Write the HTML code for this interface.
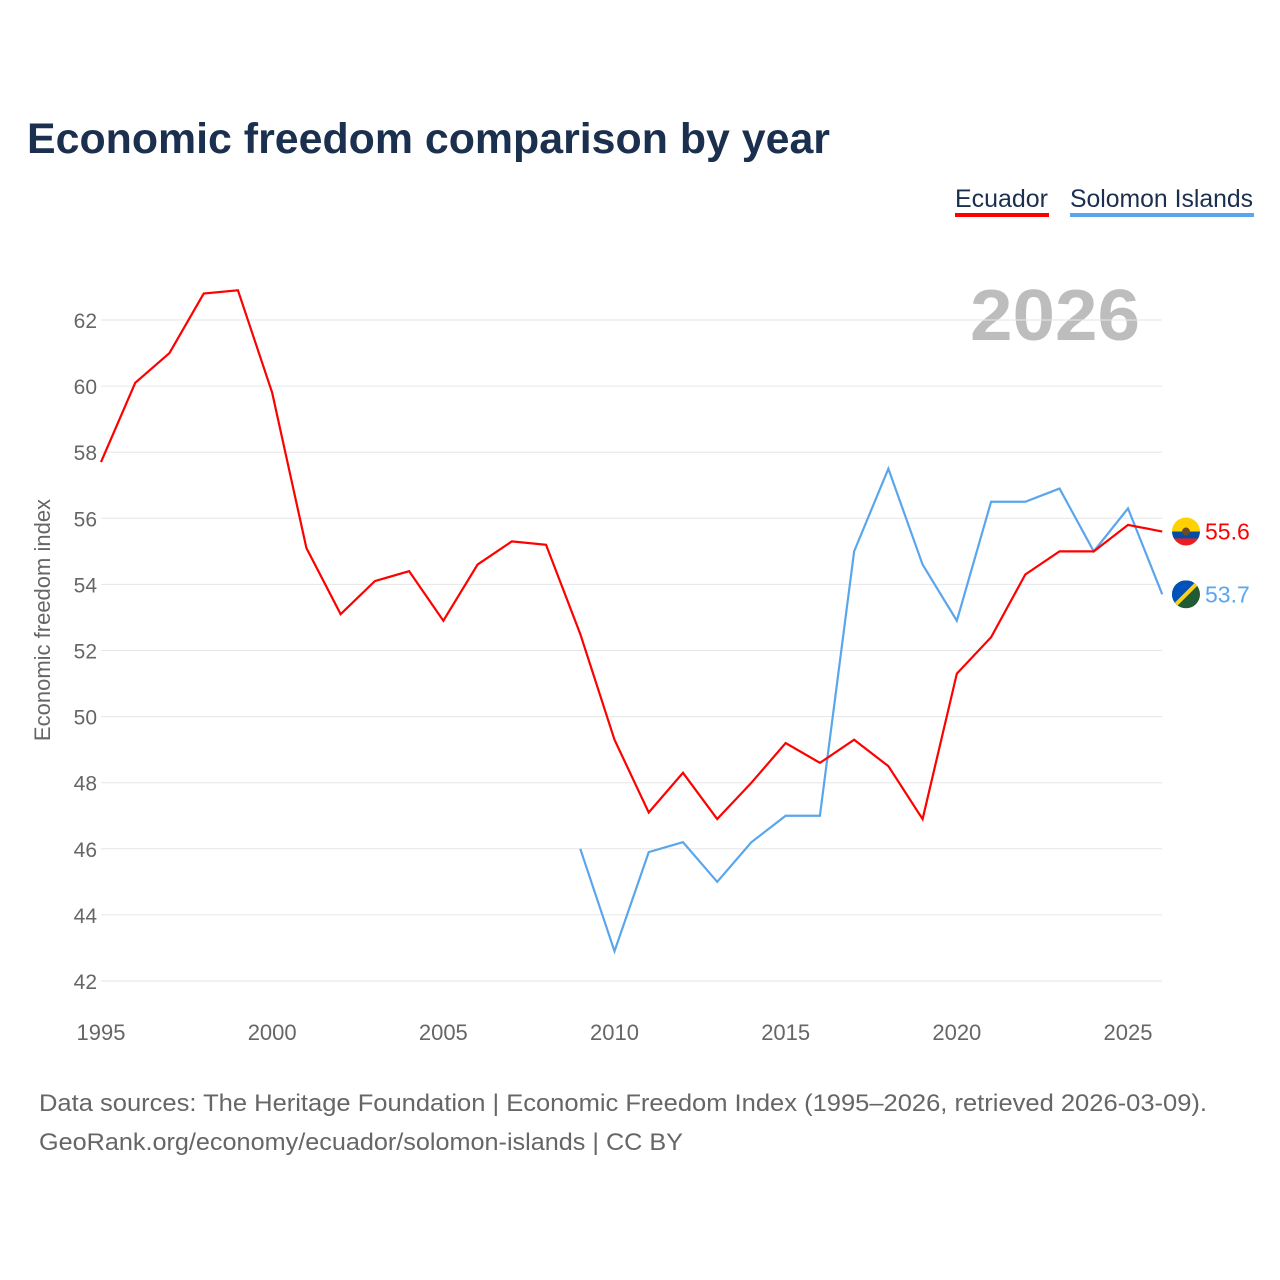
<!DOCTYPE html>
<html><head><meta charset="utf-8"><style>
body{margin:0;background:#fff;font-family:"Liberation Sans",sans-serif}
#wrap{position:relative;width:1280px;height:1280px;overflow:hidden}
</style></head><body>
<div id="wrap">
<svg id="chart" width="1280" height="1280" xmlns="http://www.w3.org/2000/svg">
<text x="27" y="153" font-size="43" font-weight="bold" fill="#1b2f4e" textLength="803" lengthAdjust="spacingAndGlyphs">Economic freedom comparison by year</text>
<g>
<text x="955" y="207" font-size="25" fill="#1b2f4e" textLength="93" lengthAdjust="spacingAndGlyphs">Ecuador</text>
<rect x="955" y="213" width="94" height="4" fill="#ff0000"/>
<text x="1070" y="207" font-size="25" fill="#1b2f4e" textLength="183" lengthAdjust="spacingAndGlyphs">Solomon Islands</text>
<rect x="1070" y="213" width="184" height="4" fill="#5aa6ec"/>
</g>
<text x="970" y="340" font-size="72" font-weight="bold" fill="#bdbdbd" textLength="170" lengthAdjust="spacingAndGlyphs">2026</text>
<g id="grid"></g><g id="yticks"></g><g id="xticks"></g><g id="lines"></g>
<text transform="translate(50,620) rotate(-90)" font-size="22" fill="#666" text-anchor="middle">Economic freedom index</text>
<text x="39" y="1111" font-size="24" fill="#666" textLength="1168" lengthAdjust="spacingAndGlyphs">Data sources: The Heritage Foundation | Economic Freedom Index (1995–2026, retrieved 2026-03-09).</text>
<text x="39" y="1150" font-size="24" fill="#666" textLength="644" lengthAdjust="spacingAndGlyphs">GeoRank.org/economy/ecuador/solomon-islands | CC BY</text>
</svg>
</div>
<script>
const years=[1995,1996,1997,1998,1999,2000,2001,2002,2003,2004,2005,2006,2007,2008,2009,2010,2011,2012,2013,2014,2015,2016,2017,2018,2019,2020,2021,2022,2023,2024,2025,2026];
const ecuador=[57.7,60.1,61.0,62.8,62.9,59.8,55.1,53.1,54.1,54.4,52.9,54.6,55.3,55.2,52.5,49.3,47.1,48.3,46.9,48.0,49.2,48.6,49.3,48.5,46.9,51.3,52.4,54.3,55.0,55.0,55.8,55.6];
const solomonYears=[2009,2010,2011,2012,2013,2014,2015,2016,2017,2018,2019,2020,2021,2022,2023,2024,2025,2026];
const solomon=[46.0,42.9,45.9,46.2,45.0,46.2,47.0,47.0,55.0,57.5,54.6,52.9,56.5,56.5,56.9,55.0,56.3,53.7];
const yTicks=[42,44,46,48,50,52,54,56,58,60,62];
const xTicks=[1995,2000,2005,2010,2015,2020,2025];
const NS="http://www.w3.org/2000/svg";
const xs=y=>101+(y-1995)*(1128-101)/30;
const ys=v=>981-(v-42)*(981-320)/20;
function mk(tag,attrs,parent){const e=document.createElementNS(NS,tag);for(const k in attrs)e.setAttribute(k,attrs[k]);document.getElementById(parent).appendChild(e);return e;}
yTicks.forEach(t=>{
 const l=mk('line',{x1:101,x2:1162,y1:ys(t),y2:ys(t),stroke:'#e6e6e6','stroke-width':1},'grid');
 
 
 const tx=mk('text',{x:97,y:ys(t)+8,'font-size':21,fill:'#666','text-anchor':'end'},'yticks');
 tx.textContent=t;
 
 
});
xTicks.forEach(t=>{
 const tx=mk('text',{x:xs(t),y:1040,'font-size':22,fill:'#666','text-anchor':'middle'},'xticks');
 tx.textContent=t;
 
 
});
function line(xv,yv,color,name){
 const p=mk('path',{d:xv.map((y,i)=>(i?'L':'M')+xs(y)+','+ys(yv[i])).join(''),fill:'none',stroke:color,'stroke-width':2.2},'lines');
 
 
}
line(solomonYears,solomon,'#5aa6ec','solomon-line');
line(years,ecuador,'#ff0000','ecuador-line');
function endLabel(v,color,name,flag){
 const cy=ys(v),cx=1186;
 const g=mk('g',{},'lines');
 
 
 if(flag==='ec'){
  g.innerHTML=`<clipPath id="c1"><circle cx="${cx}" cy="${cy}" r="14"/></clipPath><g clip-path="url(#c1)"><rect x="${cx-14}" y="${cy-14}" width="28" height="14" fill="#ffd100"/><rect x="${cx-14}" y="${cy}" width="28" height="7" fill="#034ea2"/><rect x="${cx-14}" y="${cy+7}" width="28" height="7" fill="#ed1c24"/><circle cx="${cx}" cy="${cy}" r="4" fill="#6b4a2a"/></g>`;
 }else{
  g.innerHTML=`<clipPath id="c2"><circle cx="${cx}" cy="${cy}" r="14"/></clipPath><g clip-path="url(#c2)"><rect x="${cx-14}" y="${cy-14}" width="28" height="28" fill="#215b33"/><polygon points="${cx-14},${cy-14} ${cx+14},${cy-14} ${cx-14},${cy+14}" fill="#0051ba"/><line x1="${cx+14}" y1="${cy-14}" x2="${cx-14}" y2="${cy+14}" stroke="#fcd116" stroke-width="4"/></g>`;
 }
 const t=mk('text',{x:1205,y:cy+8,'font-size':23,fill:color},'lines');
 t.textContent=v.toFixed(1);
 
 
}
endLabel(ecuador[ecuador.length-1],'#ff0000','ecuador-end','ec');
endLabel(solomon[solomon.length-1],'#5aa6ec','solomon-end','sb');
</script>
</body></html>
